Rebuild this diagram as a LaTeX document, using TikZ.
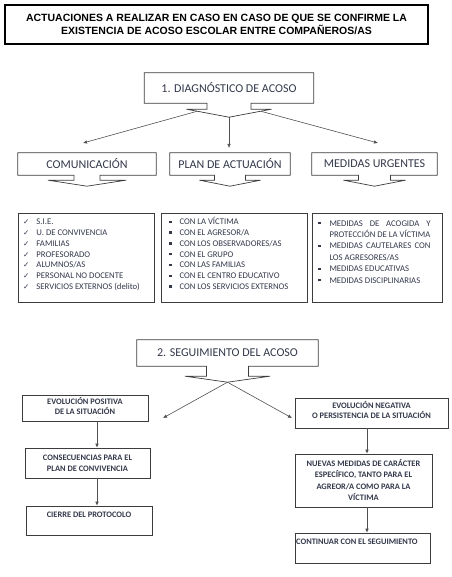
\documentclass[tikz,border=0pt]{standalone}
\usepackage{fontspec}
\setmainfont{Carlito}
\newfontfamily\arialfont{Liberation Sans}
\newfontfamily\symfont{DejaVu Sans}
\usetikzlibrary{arrows.meta,calc}
\definecolor{txt}{HTML}{33384A}
\definecolor{ln}{HTML}{3C3C3C}
\definecolor{arr}{HTML}{505050}
\newcommand{\ck}{{\symfont\fontsize{7.5}{7.5}\selectfont\color{txt}✓}}
\newcommand{\sq}{\textcolor{txt}{\raisebox{1.8pt}{\rule{2.3pt}{2.3pt}}}}
\newcommand{\calloutpath}[5]{%
  \draw[boxline] (#1.south west) -- (#1.north west) -- (#1.north east) -- (#1.south east)
   -- ($(#1.south)+(#2,0)$) -- ($(#1.south)+(#2,#4)$) -- ($(#1.south)+(#3,#4)$)
   -- ($(#1.south)+(0,#4+#5)$) coordinate (#1-tip)
   -- ($(#1.south)+(-#3,#4)$) -- ($(#1.south)+(-#2,#4)$) -- ($(#1.south)+(-#2,0)$) -- cycle;}
\tikzset{
  boxline/.style={draw=ln, line width=0.7pt, line join=miter},
  hbox/.style={inner sep=0pt, text=txt, font=\fontsize{12}{14}\selectfont},
  sbox/.style={draw=ln, line width=0.7pt, inner sep=0pt},
  stxt/.style={inner sep=0pt, text=txt, align=center, font=\bfseries\fontsize{8.4}{10}\selectfont},
  lbox/.style={draw=ln, line width=0.7pt, inner sep=0pt},
  ltxt/.style={inner sep=0pt, text=txt, anchor=north west, font=\fontsize{8.7}{10.8}\selectfont},
  conn/.style={draw=arr, line width=0.6pt, -{Latex[length=4pt,width=3.6pt]}},
}
\begin{document}
\begin{tikzpicture}[x=1pt,y=-1pt]
\useasboundingbox (0,0) rectangle (451,577);
% title
\node[draw=black, line width=1.1pt, minimum width=423, minimum height=39, inner sep=0pt,
  align=center, font=\arialfont\bfseries\fontsize{10.5}{13}\selectfont] (title) at (216.5,24.5)
  {ACTUACIONES A REALIZAR EN CASO EN CASO DE QUE SE CONFIRME LA\\EXISTENCIA DE ACOSO ESCOLAR ENTRE COMPAÑEROS/AS};
% diagnostic
\node[hbox, minimum width=169, minimum height=30] (diag) at (229,88) {1. DIAGNÓSTICO DE ACOSO};
\calloutpath{diag}{22}{42.5}{6}{8}
% headings
\node[hbox, minimum width=138, minimum height=22] (com) at (87,164) {COMUNICACIÓN};
\calloutpath{com}{13}{39}{5}{6}
\node[hbox, minimum width=120, minimum height=22] (plan) at (230,164) {PLAN DE ACTUACIÓN};
\calloutpath{plan}{15.5}{30.5}{5}{6}
\node[hbox, minimum width=125, minimum height=22] (med) at (374.5,164) {MEDIDAS URGENTES};
\calloutpath{med}{16}{31}{5}{6}
% connectors from diagnostic
\coordinate (dl) at (197,111.3);
\coordinate (dr) at (261,111.3);
\coordinate (comin) at (83,143);
\coordinate (planin) at (229,148);
\coordinate (medin) at (378,143);
\draw[conn] (dl) -- (comin);
\draw[conn] (diag-tip) -- (planin);
\draw[conn] (dr) -- (medin);
% list boxes
\node[lbox, minimum width=136, minimum height=89] (l1) at (86,257.5) {};
\node[lbox, minimum width=146, minimum height=89] (l2) at (234,257.5) {};
\node[lbox, minimum width=130, minimum height=89] (l3) at (377,257.5) {};
\node[ltxt] (l1t) at (23,217) {\begin{tabular}{@{}l@{\hspace{7pt}}l@{}}
\ck & S.I.E.\\
\ck & U. DE CONVIVENCIA\\
\ck & FAMILIAS\\
\ck & PROFESORADO\\
\ck & ALUMNOS/AS\\
\ck & PERSONAL NO DOCENTE\\
\ck & SERVICIOS EXTERNOS (delito)
\end{tabular}};
\node[ltxt] (l2t) at (169,217) {\begin{tabular}{@{}l@{\hspace{8pt}}l@{}}
\sq & CON LA VÍCTIMA\\
\sq & CON EL AGRESOR/A\\
\sq & CON LOS OBSERVADORES/AS\\
\sq & CON EL GRUPO\\
\sq & CON LAS FAMILIAS\\
\sq & CON EL CENTRO EDUCATIVO\\
\sq & CON LOS SERVICIOS EXTERNOS
\end{tabular}};
\node[ltxt, font=\fontsize{8.7}{11.4}\selectfont] (l3t) at (318,218) {\begin{tabular}{@{}l@{\hspace{9pt}}l@{}}
\sq & \hbox to 101pt{MEDIDAS\hfil DE\hfil ACOGIDA\hfil Y}\\
 & PROTECCIÓN DE LA VÍCTIMA\\
\sq & \hbox to 101pt{MEDIDAS\hfil CAUTELARES\hfil CON}\\
 & LOS AGRESORES/AS\\
\sq & MEDIDAS EDUCATIVAS\\
\sq & MEDIDAS DISCIPLINARIAS
\end{tabular}};
% follow-up
\node[hbox, minimum width=181, minimum height=26] (seg) at (227.5,353) {2. SEGUIMIENTO DEL ACOSO};
\calloutpath{seg}{21}{42.5}{10}{6}
\node[sbox, minimum width=126, minimum height=26] (pos) at (85,408) {};
\node[stxt] (posT) at (85,406) {EVOLUCIÓN POSITIVA\\DE LA SITUACIÓN};
\node[sbox, minimum width=153, minimum height=30] (neg) at (371.5,413) {};
\node[stxt] (negT) at (371.5,410) {EVOLUCIÓN NEGATIVA\\O PERSISTENCIA DE LA SITUACIÓN};
\coordinate (posin) at (163,418);
\coordinate (negin) at (292,418);
\draw[conn] (seg-tip) -- (posin);
\draw[conn] (seg-tip) -- (negin);
\node[sbox, minimum width=125, minimum height=30] (cons) at (87.5,463) {};
\node[stxt, font=\bfseries\fontsize{8.4}{11}\selectfont] (consT) at (87.5,463.5) {CONSECUENCIAS PARA EL\\PLAN DE CONVIVENCIA};
\node[sbox, minimum width=126, minimum height=29] (cierre) at (89,520.5) {};
\node[stxt] (cierreT) at (89,515) {CIERRE DEL PROTOCOLO};
\node[sbox, minimum width=137, minimum height=53] (nuev) at (363.5,480.5) {};
\node[stxt, font=\bfseries\fontsize{8.4}{11.3}\selectfont] (nuevT) at (363.5,480) {NUEVAS MEDIDAS DE CARÁCTER\\ESPECÍFICO, TANTO PARA EL\\AGREOR/A COMO PARA LA\\VÍCTIMA};
\node[sbox, minimum width=135, minimum height=30] (cont) at (362.5,548) {};
\node[stxt, anchor=west] (contT) at (296,542) {CONTINUAR CON EL SEGUIMIENTO};
\coordinate (colL) at (97,0);
\coordinate (colR) at (367,0);
\draw[conn] (pos.south -| colL) -- (cons.north -| colL);
\draw[conn] (cons.south -| colL) -- (cierre.north -| colL);
\draw[conn] (neg.south -| colR) -- (nuev.north -| colR);
\draw[conn] (nuev.south -| colR) -- (cont.north -| colR);
\end{tikzpicture}
\end{document}
